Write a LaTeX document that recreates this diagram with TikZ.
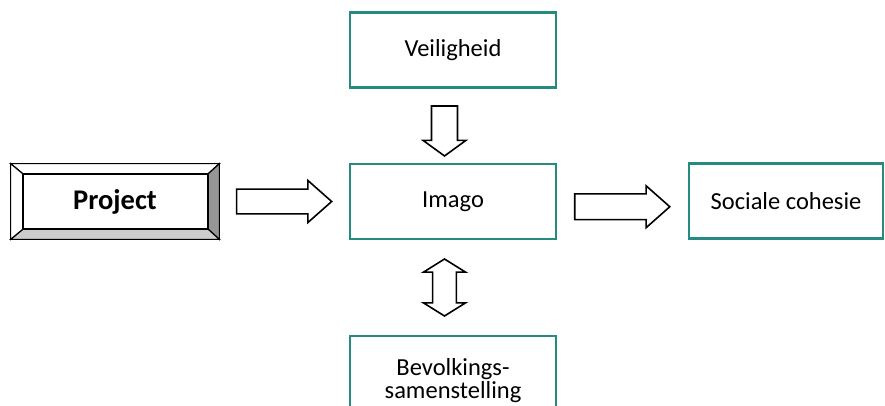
\documentclass[tikz,border=0pt]{standalone}
\usepackage{fontspec}
\setmainfont{Carlito}
\usetikzlibrary{shapes.arrows,calc}

\definecolor{boxteal}{RGB}{37,139,128}
\definecolor{bevelgrey}{RGB}{150,150,150}
\definecolor{bevellight}{RGB}{205,205,205}

\tikzset{every picture/.style={line width=0.75pt}}
\tikzset{
  factor/.style={draw=boxteal, line width=2.2pt, minimum width=206, minimum height=75, inner sep=0.75pt, align=center, font=\fontsize{24.5}{23}\selectfont},
  blockarrow/.style={single arrow, draw=black, fill=white, line width=1.6pt, inner sep=0pt},
  bothways/.style={double arrow, draw=black, fill=white, line width=1.6pt, inner sep=0pt},
  bevel/.style={draw=black, line width=1.2pt},
}

\begin{document}
\begin{tikzpicture}[x=1pt,y=1pt,yscale=-1,xscale=1]
\clip (0,0) rectangle (885,405);
\useasboundingbox (0,0) rectangle (885,405);

%Boxes
\node [factor] (veilig) at (453,50) {Veiligheid};
\node [factor] (imago) at (453,201.5) {Imago};
\node [factor] (bevolking) at (453,373.5) {};
\node [font=\fontsize{24.5}{23}\selectfont, align=center, inner sep=0.75pt] (bevtext) at ($(bevolking.center)+(0,7)$) {Bevolkings-\\samenstelling};
\node [factor, minimum width=194] (cohesie) at (786,201) {Sociale cohesie};

%Shape: Bevel [Project]
\node [minimum width=208, minimum height=75, inner sep=0pt] (project) at (115,201.5) {};
\coordinate (pin-nw) at ($(project.north west)+(12,10)$);
\coordinate (pin-ne) at ($(project.north east)+(-11,10)$);
\coordinate (pin-se) at ($(project.south east)+(-11,-10)$);
\coordinate (pin-sw) at ($(project.south west)+(12,-10)$);
\draw [bevel, fill=white] (project.north west) -- (project.north east) -- (pin-ne) -- (pin-nw) -- cycle ;
\draw [bevel, fill=bevelgrey] (project.north east) -- (project.south east) -- (pin-se) -- (pin-ne) -- cycle ;
\draw [bevel, fill=bevellight] (project.south east) -- (project.south west) -- (pin-sw) -- (pin-se) -- cycle ;
\draw [bevel, fill=white] (project.south west) -- (project.north west) -- (pin-nw) -- (pin-sw) -- cycle ;
\draw [line width=1.6pt] (project.north west) rectangle (project.south east) ;
\draw [line width=2.2pt] (pin-nw) rectangle (pin-se) ;
\node [font=\fontsize{28.5}{30}\selectfont\bfseries] (projtext) at (project.center) {Project};

%Block arrows
\node [blockarrow, minimum height=95, minimum width=42, inner ysep=9.5, single arrow tip angle=83] (toimago) at ($(project.east)!0.5!(imago.west)+(-7,0)$) {};
\node [blockarrow, minimum height=95, minimum width=42, inner ysep=10.5, single arrow tip angle=83] (tocohesie) at ($(imago.east)!0.5!(cohesie.west)+(-7.5,5.5)$) {};
\node [blockarrow, rotate=-90, minimum height=50, minimum width=43, inner ysep=10, single arrow tip angle=108] (fromveilig) at ($(veilig.south)!0.5!(imago.north)+(-8.5,0.5)$) {};
\node [bothways, rotate=90, minimum height=57, minimum width=42, inner ysep=8.5, double arrow tip angle=116] (withbevolking) at ($(imago.south)!0.5!(bevolking.north)+(-8.5,0)$) {};

\end{tikzpicture}
\end{document}
